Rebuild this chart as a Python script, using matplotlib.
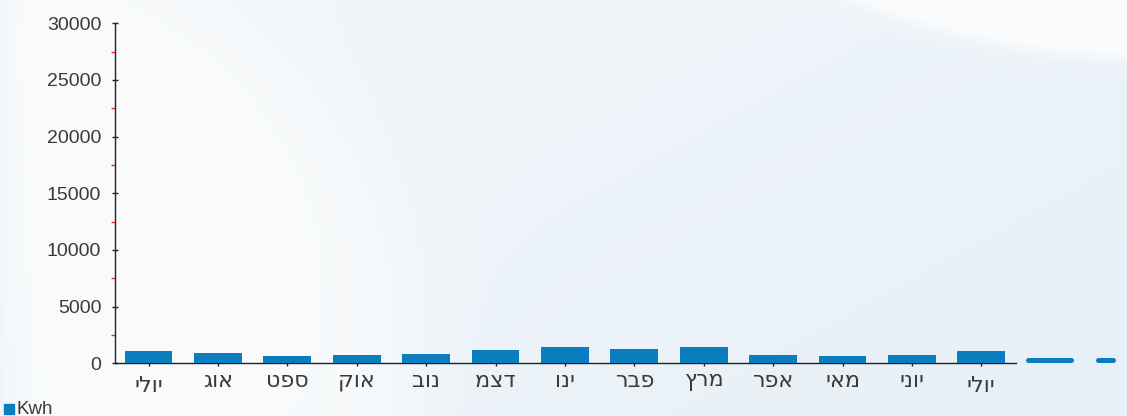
import matplotlib.pyplot as plt
import matplotlib.transforms as mtransforms
import numpy as np

plt.rcParams['font.family'] = ['Liberation Sans', 'DejaVu Sans']
plt.rcParams['lines.scale_dashes'] = False

# monthly consumption (Kwh), Jul .. Jul
months = ['יולי', 'אוג', 'ספט', 'אוק', 'נוב', 'דצמ', 'ינו',
          'פבר', 'מרץ', 'אפר', 'מאי', 'יוני', 'יולי']
kwh = [1090, 930, 650, 720, 840, 1210, 1440, 1270, 1440, 770, 645, 770, 1100]
trail_level = 310
y_ticks = [0, 5000, 10000, 15000, 20000, 25000, 30000]

W, H = 1127, 416
bar_color = '#0a7dbf'
text_color = '#3a3a3a'

fig = plt.figure(figsize=(W / 100, H / 100), dpi=100)

# soft light-blue background with white swooshes
yy, xx = np.mgrid[0:H, 0:W].astype(float)
t = (xx / W * 0.6 + yy / H * 0.4)
base = np.zeros((H, W, 3))
c0 = np.array([243, 247, 250]) / 255.0
c1 = np.array([231, 240, 247]) / 255.0
for k in range(3):
    base[..., k] = c0[k] + (c1[k] - c0[k]) * t
white = np.array([251, 252, 253]) / 255.0
d1 = np.sqrt((xx - 0) ** 2 + (yy - 360) ** 2) - 415
m1 = 1 / (1 + np.exp(d1 / 25.0)) * 0.8
d2 = np.sqrt((xx - 1165) ** 2 + (yy + 820) ** 2) - 880
m2 = 1 / (1 + np.exp(d2 / 4.0))
m = np.clip(np.maximum(m1, m2), 0, 1)
m = m * (1 - np.exp(-xx / 12.0))
img = base * (1 - m[..., None]) + white * m[..., None]
bg = fig.add_axes([0, 0, 1, 1], zorder=-10)
bg.imshow(img, aspect='auto', interpolation='bilinear')
bg.axis('off')

ax = fig.add_axes([114.5 / W, (H - 363.3) / H, (1016 - 114.5) / W, (363.3 - 23.3) / H])
ax.patch.set_alpha(0)

x = np.arange(len(months))
ax.bar(x, kwh, width=0.69, color=bar_color, zorder=3)

# dashed level running off the right edge
ax.plot([len(months) - 0.32, len(months) + 0.9], [trail_level, trail_level],
        color=bar_color, lw=3.6, dashes=(31, 19.4), solid_capstyle='round',
        dash_capstyle='round', clip_on=False, zorder=3)

ax.set_xlim(-0.49, len(months) - 0.5)
ax.set_ylim(0, 30000)

for s in ['top', 'right']:
    ax.spines[s].set_visible(False)
ax.spines['left'].set_color('#222222')
ax.spines['bottom'].set_color('#222222')
ax.spines['left'].set_linewidth(1.0)
ax.spines['bottom'].set_linewidth(1.0)

ax.set_yticks(y_ticks)
ax.set_yticklabels([str(v) for v in y_ticks])
ax.set_yticks([v + 2500 for v in y_ticks[:-1]], minor=True)
ax.tick_params(axis='y', which='major', direction='inout', length=5, width=1,
               color='#222222', labelsize=14, labelcolor=text_color, pad=7)
ax.tick_params(axis='y', which='minor', direction='out', length=3, width=1,
               color='#ff2020')

ax.set_xticks(x)
ax.set_xticklabels([m[::-1] for m in months], family='DejaVu Sans')
ax.tick_params(axis='x', which='major', direction='out', length=2.5, width=1,
               color='#222222', labelsize=16, labelcolor=text_color, pad=3)
# labels with a tall lamed sit lower in the original
for lab in ax.get_xticklabels():
    if 'ל' in lab.get_text():
        lab.set_transform(lab.get_transform() +
                          mtransforms.ScaledTranslation(0, -5 / 100, fig.dpi_scale_trans))

# legend
fig.patches.append(plt.Rectangle((4 / W, (H - 414) / H), 10 / W, 10 / H,
                                 transform=fig.transFigure, color=bar_color))
fig.text(16 / W, (H - 414) / H, 'Kwh', fontsize=13.5, color=text_color,
         ha='left', va='baseline')

fig.savefig('out.png', dpi=100)
